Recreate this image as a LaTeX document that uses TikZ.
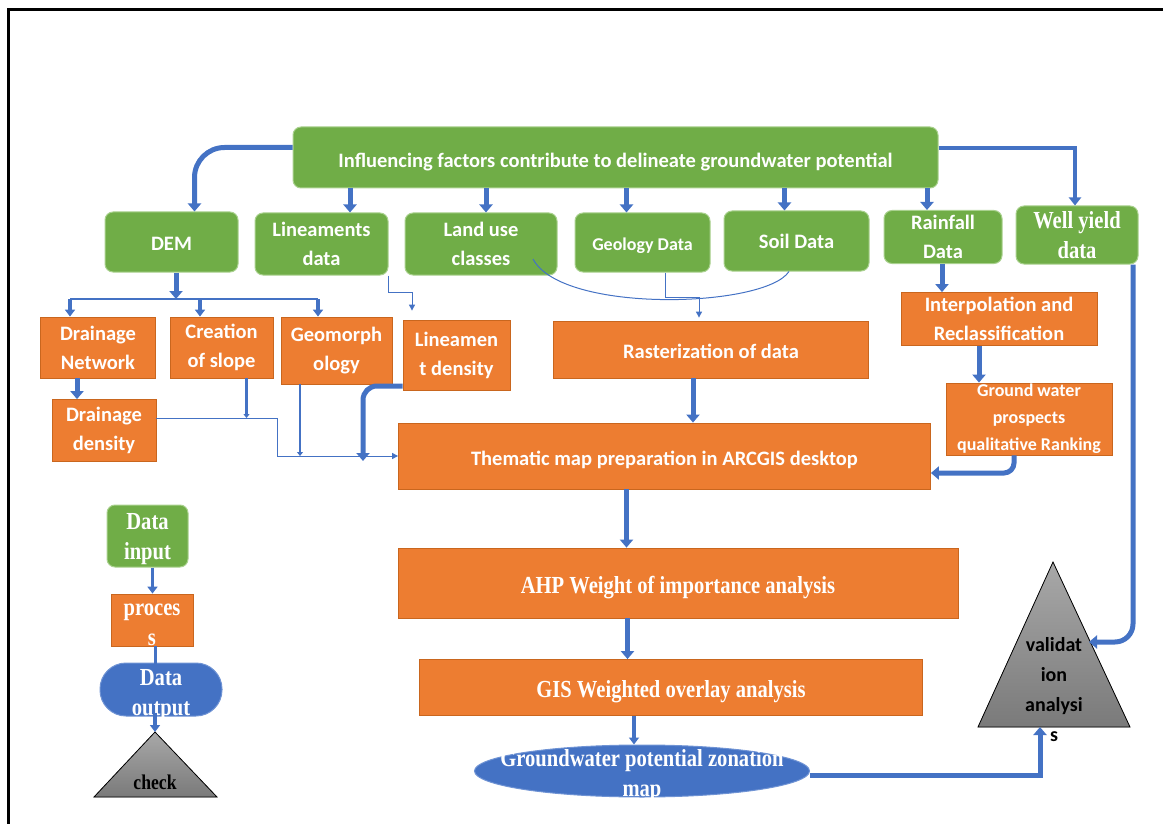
\documentclass[tikz,border=0pt]{standalone}
\usepackage{fontspec}
\newfontfamily\calfont{Carlito}
\newfontfamily\timesfont[FakeStretch=0.84]{Liberation Serif}
\usetikzlibrary{arrows.meta,shapes.geometric}
\definecolor{grn}{HTML}{70AD47}
\definecolor{grnedge}{HTML}{A9D18E}
\definecolor{org}{HTML}{ED7D31}
\definecolor{orgedge}{HTML}{C9661E}
\definecolor{blu}{HTML}{4472C4}
\definecolor{bluedge}{HTML}{6F93D4}
\definecolor{tritop}{HTML}{A8A8A8}
\definecolor{tribot}{HTML}{7A7A7A}

\tikzset{
  sansbold/.style={font=\calfont\bfseries\fontsize{20.5}{29}\selectfont},
  serifbold/.style={font=\timesfont\bfseries\fontsize{24.5}{30}\selectfont},
  greenbox/.style={draw=grnedge, line width=1pt, fill=grn, rounded corners=8pt, text=white, inner sep=0pt, align=center, sansbold},
  orangebox/.style={draw=orgedge, line width=0.8pt, fill=org, text=white, inner sep=0pt, align=center, sansbold},
  bluebox/.style={draw=bluedge, line width=1pt, fill=blu, text=white, inner sep=0pt, align=center},
  sz/.style 2 args={minimum width=#1pt, minimum height=#2pt},
  bigarr/.style={draw=blu, line width=5pt, -{Triangle[width=13pt,length=8pt]}},
  midarr/.style={draw=blu, line width=3.5pt, -{Triangle[width=10pt,length=7pt]}},
  smallarr/.style={draw=blu, line width=2.5pt, -{Triangle[width=6pt,length=4pt]}},
  thinarr/.style={draw=blu, line width=1pt, -{Triangle[width=6pt,length=6pt]}},
}

\begin{document}
\begin{tikzpicture}[x=1pt,y=-1pt]
	\useasboundingbox (0,0) rectangle (1163,824);
	\draw[line width=3pt] (8,824) -- (8,9.5) -- (1163,9.5);

	% sources
	\node[greenbox,sz={645}{61},text height=23.5pt] (top) at (615.5,157.5) {Influencing factors contribute to delineate groundwater potential};
	\node[greenbox,sz={133}{60},text height=17pt] (dem) at (171.5,242) {DEM};
	\node[greenbox,sz={133}{62}] (lin) at (321.5,244) {Lineaments\\data};
	\node[greenbox,sz={152}{62}] (land) at (481,244) {Land use\\classes};
	\node[greenbox,sz={135}{59},font=\calfont\bfseries\fontsize{18}{27}\selectfont,text height=18.5pt] (geo) at (642.5,242.5) {Geology Data};
	\node[greenbox,sz={145}{60}] (soil) at (796.5,241) {Soil Data};
	\node[greenbox,sz={118}{53}] (rain) at (943,237) {Rainfall\\Data};
	\node[greenbox,serifbold,sz={122}{58}] (well) at (1077,235) {Well yield\\data};

	% processing
	\node[orangebox,sz={115}{61}] (dn) at (98,347.5) {Drainage\\Network};
	\node[orangebox,sz={103}{61}] (slope) at (221.5,347.5) {Creation\\of slope};
	\node[orangebox,sz={111}{67}] (geom) at (336.5,350.5) {Geomorph\\ology};
	\node[orangebox,sz={107}{70}] (linden) at (456.5,355) {Lineamen\\t density};
	\node[orangebox,sz={315}{57},text height=18.5pt] (rast) at (711,349.5) {Rasterization of data};
	\node[orangebox,sz={196}{53}] (interp) at (999,319) {Interpolation and\\Reclassification};
	\node[orangebox,sz={104}{62}] (dd) at (104,430.5) {Drainage\\density};
	\node[orangebox,sz={166}{72},font=\calfont\bfseries\fontsize{18}{27}\selectfont] (gwp) at (1029,419) {Ground water\\prospects\\qualitative Ranking};

	\node[orangebox,sz={532}{66},text height=22.5pt] (them) at (664.5,456) {Thematic map preparation in ARCGIS desktop};
	\node[orangebox,serifbold,sz={560}{70},text height=26.5pt] (ahp) at (678,583) {AHP Weight of importance analysis};
	\node[orangebox,serifbold,sz={503}{56},text height=24.5pt] (gis) at (671,687.5) {GIS Weighted overlay analysis};
	\node[bluebox,ellipse,sz={335}{52}] (gwz) at (642,771) {};
	\node[serifbold,text=white,align=center,inner sep=0pt] (gwzlab) at (642,775.5) {Groundwater potential zonation\\map};

	% validation
	\filldraw[draw=black, line width=0.8pt, top color=tritop, bottom color=tribot] (1053,562) -- (1130,727) -- (978,727) -- cycle;
	\node[font=\calfont\bfseries\fontsize{20}{30}\selectfont,align=center,inner sep=0pt] (val) at (1054,690) {validat\\ion\\analysi\\s};

	% legend
	\node[greenbox,serifbold,sz={81}{62},text height=53pt] (din) at (147.5,536) {Data\\input};
	\node[orangebox,serifbold,sz={82}{52},text height=51.5pt] (proc) at (152,620) {proces\\s};
	\node[bluebox,rounded corners=26pt,sz={122}{53}] (dout) at (161,689.5) {};
	\node[serifbold,text=white,align=center,inner sep=0pt] (doutlab) at (161,695) {Data\\output};
	\filldraw[draw=black, line width=0.8pt, top color=tritop, bottom color=tribot] (155,732) -- (217,797) -- (94,797) -- cycle;
	\node[font=\timesfont\bfseries\fontsize{21}{25}\selectfont,inner sep=0pt] (chk) at (155,782.5) {check};

	\coordinate (bus) at (176,299);
	\coordinate (busl) at (70,299);
	\coordinate (busm) at (200,299);
	\coordinate (busr) at (318,299);
	\coordinate (jdd) at (277,456);
	\coordinate (jslope) at (246.5,418);
	\coordinate (jgeom) at (300,456);
	\coordinate (lindrop) at (363,461);
	\coordinate (lintap) at (412,292);
	\coordinate (rastin) at (699,297);
	\coordinate (vbase) at (1040,727);
	\coordinate (vright) at (1089,642);
	\coordinate (chktop) at (155,732);

	% from the factors
	\draw[bigarr,rounded corners=30pt] ([yshift=10pt]top.west) -| ([xshift=23pt]dem.north);
	\draw[bigarr] ([xshift=28.5pt]lin.north |- top.south) -- ([xshift=28.5pt]lin.north);
	\draw[bigarr] ([xshift=5pt]land.north |- top.south) -- ([xshift=5pt]land.north);
	\draw[bigarr] ([xshift=-16pt]geo.north |- top.south) -- ([xshift=-16pt]geo.north);
	\draw[bigarr] ([xshift=-12pt]soil.north |- top.south) -- ([xshift=-12pt]soil.north);
	\draw[bigarr] ([xshift=-16pt]rain.north |- top.south) -- ([xshift=-16pt]rain.north);
	\draw[draw=blu,line width=4pt,-{Triangle[width=12pt,length=8pt]}] ([yshift=9pt]top.east) -| ([xshift=-2pt]well.north);

	% DEM branch
	\draw[bigarr] (dem.south -| bus) -- (bus);
	\draw[blu,line width=1.2pt] (busl) -- (busr);
	\draw[midarr] (busl) -- (dn.north -| busl);
	\draw[midarr] (busm) -- (slope.north -| busm);
	\draw[midarr] (busr) -- (geom.north -| busr);
	\draw[bigarr] ([xshift=-21pt]dn.south) -- ([xshift=-21pt]dn.south |- dd.north);
	\draw[thinarr] ([yshift=12pt]dd.east) -| (jdd) -- (them.west);
	\draw[smallarr] (slope.south -| jslope) -- (jslope);
	\draw[smallarr] (geom.south -| jgeom) -- (jgeom);
	\draw[thinarr] (lin.south east) |- (lintap) -- ([yshift=9pt]linden.north -| lintap);
	\draw[bigarr,rounded corners=14pt] ([yshift=-31pt]linden.west) -| (lindrop);

	% raster branch
	\draw[blu,line width=1pt] ([xshift=52pt,yshift=-15pt]land.center) .. controls (562,314) and (765,308) .. ([xshift=-7.5pt]soil.south);
	\draw[thinarr] ([xshift=22.5pt]geo.south) |- (rastin) -- ([yshift=3pt]rast.north -| rastin);
	\draw[bigarr] ([xshift=-18pt]rast.south) -- ([xshift=-18pt]rast.south |- them.north);

	% rainfall branch
	\draw[bigarr] ([xshift=-1pt]rain.south) -- ([xshift=-1pt]rain.south |- interp.north);
	\draw[bigarr] ([xshift=-20pt]interp.south) -- ([xshift=-20pt]interp.south |- gwp.north);
	\draw[bigarr,rounded corners=10pt] ([xshift=-15pt]gwp.south) |- ([yshift=-17pt]them.east);

	% main chain
	\draw[bigarr] ([xshift=-38pt]them.south) -- ([xshift=-38pt]them.south |- ahp.north);
	\draw[bigarr] ([xshift=-50.5pt]ahp.south) -- ([xshift=-50.5pt]ahp.south |- gis.north);
	\draw[midarr] ([xshift=-37pt]gis.south) -- ([xshift=-37pt]gis.south |- gwz.north);
	\draw[bigarr] ([yshift=-4pt]gwz.east) -| (vbase);
	\draw[bigarr,rounded corners=18pt] ([xshift=56pt]well.south) |- (vright);

	% legend links
	\draw[midarr] ([xshift=5pt]din.south) -- ([xshift=5pt]din.south |- proc.north);
	\draw[blu,line width=3pt] ([xshift=3pt]proc.south) -- ([xshift=3pt,yshift=-8pt]proc.south |- dout.north);
	\draw[midarr] ([xshift=-6pt,yshift=4pt]dout.south) -- (chktop);
\end{tikzpicture}
\end{document}
